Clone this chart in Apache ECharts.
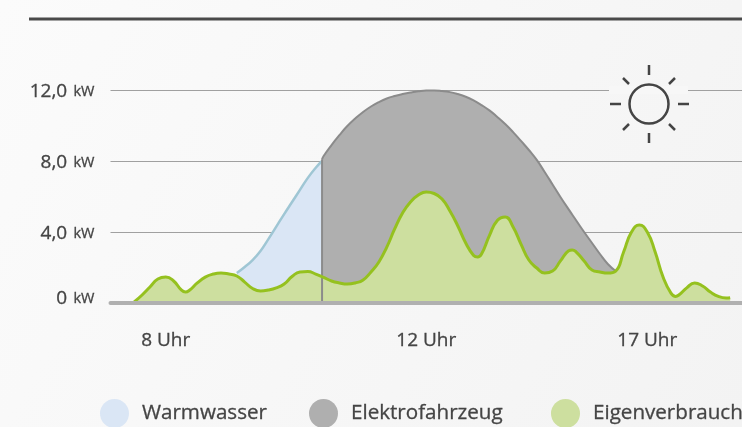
<!DOCTYPE html>
<html>
<head>
<meta charset="utf-8">
<style>
  html, body { margin: 0; padding: 0; }
  #chart { width: 742px; height: 427px; }
</style>
<script src="https://cdn.jsdelivr.net/npm/echarts@6/dist/echarts.min.js"></script>
</head>
<body>
<div id="chart"></div>
<script>
// x is a time step along the day; the hours are not evenly spaced in the picture
var xTickSteps = [7, 40, 68];
var xTickLabels = ['8 Uhr', '12 Uhr', '17 Uhr'];
var yTicks = [0, 4, 8, 12];
var seriesNames = ['Warmwasser', 'Elektrofahrzeug', 'Eigenverbrauch'];

var switchStep = 26.8;

var warmwasserSteps = [16, 17, 18, 19, 20, 21, 22, 23, 24, 25, 26, switchStep];
var warmwasserValues = [1.69, 2.03, 2.42, 2.93, 3.6, 4.3, 5.01, 5.69, 6.37, 7.05, 7.62, 8.0];

var elektroSteps = [switchStep, 27, 28, 29, 30, 31, 32, 33, 34, 35, 36, 37, 38, 39, 40, 41, 42, 43, 44, 45,
  46, 47, 48, 49, 50, 51, 52, 53, 54, 55, 56, 57, 58, 59, 60, 61, 62, 63, 64];
var elektroValues = [8.1, 8.28, 8.9, 9.46, 9.97, 10.39, 10.76, 11.07, 11.32, 11.52, 11.66, 11.77, 11.86, 11.93, 11.97, 11.97, 11.94, 11.88, 11.77, 11.62,
  11.41, 11.15, 10.85, 10.48, 10.08, 9.63, 9.13, 8.62, 8.06, 7.38, 6.68, 5.97, 5.3, 4.65, 4.0, 3.38, 2.76, 2.2, 1.8];
var elektroEdge = [0, 8.1];

var eigenSteps = [3, 4, 5, 6, 7, 8, 9, 9.5, 10, 11, 12, 13, 14, 15, 16, 17, 18, 19, 20, 21, 22,
  23, 24, 25, 26, 27, 28, 29, 30, 31, 32, 33, 34, 35, 36, 37, 38, 39, 40, 41, 42,
  43, 44, 45, 46, 46.5, 47, 48, 49, 50, 51, 52, 53, 54, 55, 56, 57, 58, 58.5, 59, 60, 61, 62,
  63, 64, 65, 66, 67, 68, 69, 70, 71, 71.6, 72, 73, 74, 75, 76, 77, 78, 78.5];
var eigenValues = [0.06, 0.45, 0.9, 1.35, 1.46, 1.24, 0.72, 0.62, 0.72, 1.13, 1.46, 1.63, 1.69, 1.63, 1.52, 1.18, 0.82, 0.68, 0.73, 0.85, 1.07,
  1.49, 1.75, 1.77, 1.63, 1.44, 1.24, 1.13, 1.07, 1.13, 1.3, 1.75, 2.31, 3.15, 4.17, 5.07, 5.69, 6.08, 6.25, 6.17, 5.86,
  5.18, 4.34, 3.38, 2.68, 2.59, 2.76, 3.8, 4.65, 4.85, 4.28, 3.32, 2.42, 1.97, 1.69, 1.8, 2.37, 2.93, 2.99, 2.87, 2.37, 1.86, 1.75,
  1.69, 1.8, 2.87, 4.0, 4.39, 4.0, 2.87, 1.46, 0.56, 0.37, 0.45, 0.85, 1.13, 0.96, 0.62, 0.37, 0.28, 0.3];

var textColor = '#444444';
var fontName = '"Open Sans", sans-serif';

function pairs(steps, values) {
  return values.map(function (v, i) { return [steps[i], v]; });
}

// Open Sans has no medium face here, so a thin outline stands in for the heavier text
function label(size, padding) {
  return { color: textColor, fontFamily: fontName, fontSize: size, textBorderColor: textColor, textBorderWidth: 0.3, padding: padding };
}

function legendAt(name, left, color) {
  return {
    left: left,
    top: 394,
    data: [{ name: name, icon: 'circle', itemStyle: { color: color, borderWidth: 0 } }],
    itemWidth: 29,
    itemHeight: 29,
    selectedMode: false,
    textStyle: label(20.6, [4, 0, 0, 8])
  };
}

var myChart = echarts.init(document.getElementById('chart'));
myChart.setOption({
  animation: false,
  backgroundColor: new echarts.graphic.LinearGradient(0, 0, 1, 1, [
    { offset: 0, color: '#fbfbfb' },
    { offset: 1, color: '#f3f3f3' }
  ]),
  grid: { left: 110.5, top: 90, width: 634.4, height: 213 },
  legend: [
    legendAt(seriesNames[0], 95, '#dae6f5'),
    legendAt(seriesNames[1], 304, '#afafaf'),
    legendAt(seriesNames[2], 546, '#cddf9f')
  ],
  xAxis: {
    type: 'value',
    min: 0,
    max: 80,
    z: 4,
    splitLine: { show: false },
    axisTick: { show: false },
    axisLine: { lineStyle: { color: '#b0b0b0', width: 4, cap: 'round' } },
    axisLabel: Object.assign(label(19), {
      customValues: xTickSteps,
      margin: 28,
      formatter: function (v) { return xTickLabels[xTickSteps.indexOf(v)]; }
    })
  },
  yAxis: {
    type: 'value',
    min: yTicks[0],
    max: yTicks[yTicks.length - 1],
    interval: 4,
    axisLine: { show: false },
    axisTick: { show: false },
    splitLine: { lineStyle: { color: '#a0a0a0', width: 1 } },
    axisLabel: {
      margin: 16,
      formatter: function (v) {
        if (v === 0) return '{zero|0} {unitzero|kW}';
        return '{num|' + v.toFixed(1).replace('.', ',') + '} {unit|kW}';
      },
      rich: {
        num: label(19, [4, 3, 0, 0]),
        unit: label(14.5, [4, 0, 0, 0]),
        zero: label(19, [0, 3, 8, 0]),
        unitzero: label(14.5, [0, 0, 8, 0])
      }
    }
  },
  series: [
    {
      name: seriesNames[1],
      type: 'line',
      smooth: true,
      symbol: 'none',
      data: pairs(elektroSteps, elektroValues),
      lineStyle: { color: '#8b8b8b', width: 2 },
      itemStyle: { color: '#afafaf' },
      areaStyle: { color: '#afafaf', opacity: 1 }
    },
    {
      name: seriesNames[0],
      type: 'line',
      smooth: true,
      symbol: 'none',
      data: pairs(warmwasserSteps, warmwasserValues),
      lineStyle: { color: '#9fc6d4', width: 2.5 },
      itemStyle: { color: '#dae6f5' },
      areaStyle: { color: '#dae6f5', opacity: 1 }
    },
    {
      name: 'Wechsel',
      type: 'line',
      symbol: 'none',
      data: [[switchStep, elektroEdge[0]], [switchStep, elektroEdge[1]]],
      lineStyle: { color: '#8b8b8b', width: 2 }
    },
    {
      name: seriesNames[2],
      type: 'line',
      smooth: true,
      symbol: 'none',
      data: pairs(eigenSteps, eigenValues),
      lineStyle: { color: '#95c11f', width: 3 },
      itemStyle: { color: '#cddf9f' },
      areaStyle: { color: '#cddf9f', opacity: 1 }
    }
  ],
  graphic: [
    { type: 'line', shape: { x1: 29, y1: 19, x2: 742, y2: 19 }, style: { stroke: '#4a4a4a', lineWidth: 3 } },
    // gap in the top grid line around the sun
    { type: 'rect', shape: { x: 609, y: 86, width: 79, height: 8 }, style: { fill: '#f7f7f7' }, z: 5 },
    { type: 'circle', shape: { cx: 649, cy: 104, r: 19.5 }, style: { fill: 'none', stroke: '#444444', lineWidth: 2.5 }, z: 6 },
    { type: 'line', shape: { x1: 649, y1: 65, x2: 649, y2: 75 }, style: { stroke: '#444444', lineWidth: 2.5 }, z: 6 },
    { type: 'line', shape: { x1: 649, y1: 133, x2: 649, y2: 143 }, style: { stroke: '#444444', lineWidth: 2.5 }, z: 6 },
    { type: 'line', shape: { x1: 610, y1: 104, x2: 621, y2: 104 }, style: { stroke: '#444444', lineWidth: 2.5 }, z: 6 },
    { type: 'line', shape: { x1: 678, y1: 104, x2: 689, y2: 104 }, style: { stroke: '#444444', lineWidth: 2.5 }, z: 6 },
    { type: 'line', shape: { x1: 623, y1: 78, x2: 629, y2: 84 }, style: { stroke: '#444444', lineWidth: 2.5 }, z: 6 },
    { type: 'line', shape: { x1: 675, y1: 78, x2: 669, y2: 84 }, style: { stroke: '#444444', lineWidth: 2.5 }, z: 6 },
    { type: 'line', shape: { x1: 623, y1: 130, x2: 629, y2: 124 }, style: { stroke: '#444444', lineWidth: 2.5 }, z: 6 },
    { type: 'line', shape: { x1: 675, y1: 130, x2: 669, y2: 124 }, style: { stroke: '#444444', lineWidth: 2.5 }, z: 6 }
  ]
});
</script>
</body>
</html>
